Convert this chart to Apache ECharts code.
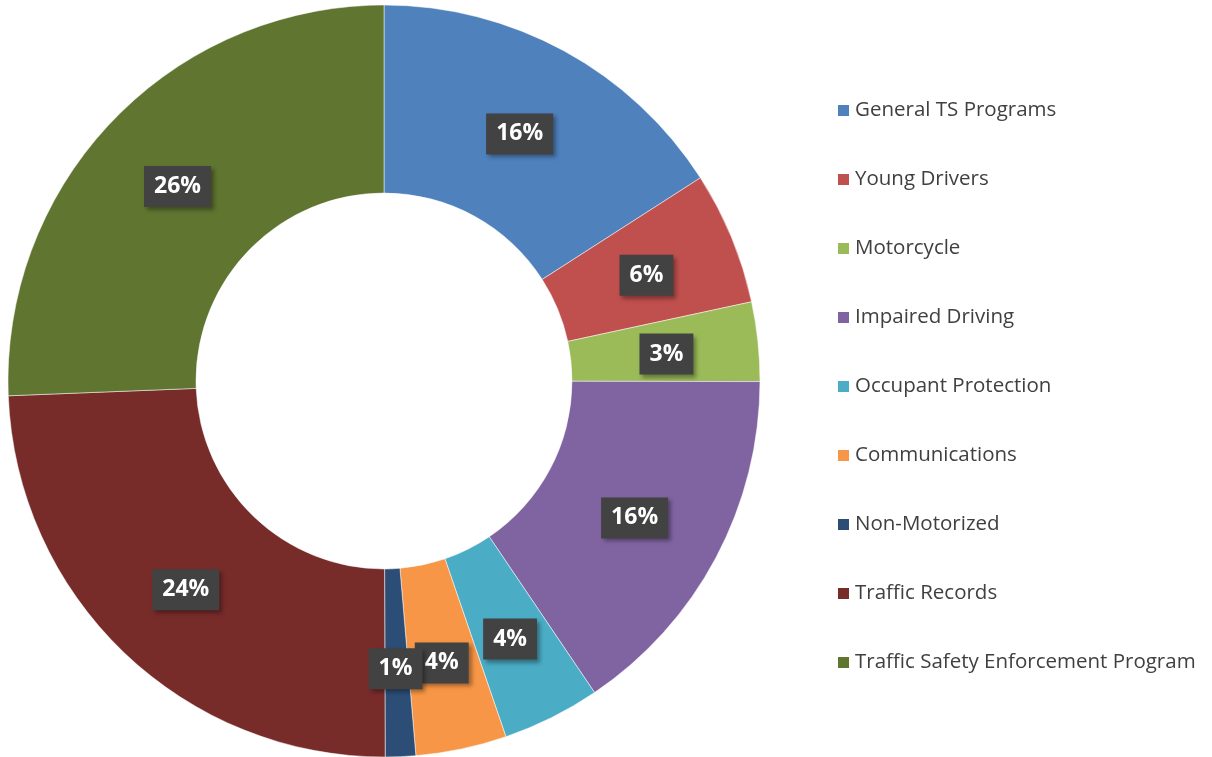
<!DOCTYPE html>
<html>
<head>
<meta charset="utf-8">
<script src="https://cdn.jsdelivr.net/npm/echarts@6/dist/echarts.min.js"></script>
<style>html,body{margin:0;padding:0;background:#fff}#c{width:1212px;height:757px}</style>
</head>
<body>
<div id="c"></div>
<script>
const categories = ['General TS Programs','Young Drivers','Motorcycle','Impaired Driving','Occupant Protection','Communications','Non-Motorized','Traffic Records','Traffic Safety Enforcement Program'];
const values = [15.9, 5.7, 3.4, 15.5, 4.2, 3.9, 1.3, 24.4, 25.6];
const colors = ['#4F81BD','#C0504D','#9BBB59','#8064A2','#4BACC6','#F79646','#2C4D75','#772C2A','#5F7530'];

const chart = echarts.init(document.getElementById('c'));
chart.setOption({
  animation: false,
  color: colors,
  legend: {
    orient: 'vertical',
    left: 831,
    top: 95,
    itemWidth: 13,
    itemHeight: 13,
    itemGap: 48,
    itemTextGap: 7,
    icon: 'rect',
    textStyle: { fontFamily: 'Open Sans', fontSize: 20.5, lineHeight: 20, color: '#404040' },
    data: categories
  },
  series: [{
    type: 'pie',
    center: [384, 381],
    radius: [188, 376],
    startAngle: 90,
    clockwise: true,
    avoidLabelOverlap: false,
    itemStyle: { borderColor: '#fff', borderWidth: 0.5 },
    labelLayout: { hideOverlap: false, dx: -1, dy: 3 },
    label: {
      position: 'inside',
      formatter: p => Math.round(p.percent) + '%',
      color: '#fff',
      fontFamily: 'Open Sans',
      fontWeight: 'bold',
      fontSize: 23,
      lineHeight: 24,
      backgroundColor: '#424242',
      padding: [9, 10, 8, 10],
      shadowColor: 'rgba(0,0,0,0.35)',
      shadowBlur: 4,
      shadowOffsetX: 3,
      shadowOffsetY: 3
    },
    labelLine: { show: false },
    data: categories.map((n, i) => ({ name: n, value: values[i] }))
  }]
});
</script>
</body>
</html>
